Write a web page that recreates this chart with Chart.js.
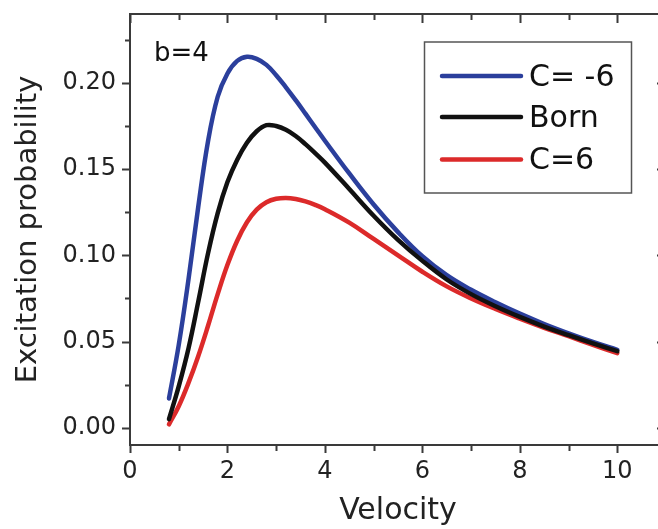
<!DOCTYPE html>
<html>
<head>
<meta charset="utf-8">
<title>Excitation probability vs velocity</title>
<script src="https://cdn.jsdelivr.net/npm/chart.js@4.4.1/dist/chart.umd.min.js"></script>
<style>
  html, body { margin: 0; padding: 0; background: #fff; overflow: hidden; }
  #wrap { width: 658px; height: 529px; overflow: hidden; }
</style>
</head>
<body>
<div id="wrap"><canvas id="chart" width="680" height="529"></canvas></div>
<script>
// Excitation probability for impact parameter b=4
const velocity = [0.8, 1.0, 1.2, 1.4, 1.6, 1.8, 2.0, 2.2, 2.4, 2.6, 2.8, 3.0, 3.2, 3.4, 3.6, 3.8, 4.0,
                  4.5, 5.0, 5.5, 6.0, 6.5, 7.0, 7.5, 8.0, 8.5, 9.0, 9.5, 10.0];
const probCm6  = [0.017, 0.048, 0.086, 0.128, 0.166, 0.192, 0.2055, 0.2128, 0.2152, 0.2140, 0.2105, 0.2045, 0.1975, 0.1900, 0.1822, 0.1743, 0.1665,
                  0.1475, 0.1295, 0.1135, 0.0995, 0.0885, 0.0800, 0.0728, 0.0662, 0.0602, 0.0548, 0.0498, 0.0452];
const probBorn = [0.005, 0.024, 0.046, 0.073, 0.101, 0.1245, 0.1425, 0.1555, 0.1653, 0.1720, 0.1755, 0.1750, 0.1728, 0.1692, 0.1645, 0.1593, 0.1538,
                  0.1385, 0.1230, 0.1090, 0.0968, 0.0860, 0.0775, 0.0705, 0.0643, 0.0587, 0.0537, 0.0489, 0.0444];
const probC6   = [0.002, 0.0125, 0.026, 0.0415, 0.059, 0.0775, 0.0945, 0.1085, 0.1192, 0.1265, 0.1308, 0.1328, 0.1333, 0.1327, 0.1313, 0.1293, 0.1268,
                  0.1190, 0.1095, 0.1000, 0.0905, 0.0820, 0.0750, 0.0689, 0.0633, 0.0580, 0.0531, 0.0481, 0.0433];

const seriesLabels = ['C= -6', 'Born', 'C=6'];
const seriesColors = ['#2b3f9c', '#111111', '#dc2a2a'];

const xMajor = [0, 2, 4, 6, 8, 10];
const xMinor = [1, 3, 5, 7, 9];
const yMajor = [0.00, 0.05, 0.10, 0.15, 0.20];
const yMinor = [0.025, 0.075, 0.125, 0.175, 0.225];

const toPoints = vals => vals.map((v, i) => ({ x: velocity[i], y: v }));

Chart.defaults.font.family = '"DejaVu Sans", sans-serif';
Chart.defaults.color = '#222';

const frameColor = '#3a3a3a';

// box, tick marks on all four sides, legend and the b=4 note
const axesFrame = {
  id: 'axesFrame',
  afterDatasetsDraw(chart) {
    const { ctx, chartArea: a, scales: { x, y } } = chart;
    ctx.save();
    ctx.strokeStyle = frameColor;
    ctx.lineWidth = 2;
    ctx.strokeRect(a.left, a.top, a.right - a.left, a.bottom - a.top);

    ctx.beginPath();
    const xt = (vals, outLen, inLen) => vals.forEach(v => {
      const px = Math.round(x.getPixelForValue(v)) + 0.5;
      ctx.moveTo(px, a.bottom); ctx.lineTo(px, a.bottom + outLen);
      ctx.moveTo(px, a.top); ctx.lineTo(px, a.top + inLen);
    });
    const yt = (vals, outLen, inLen) => vals.forEach(v => {
      const py = Math.round(y.getPixelForValue(v)) + 0.5;
      ctx.moveTo(a.left - outLen, py); ctx.lineTo(a.left, py);
      ctx.moveTo(a.right, py); ctx.lineTo(a.right - inLen, py);
    });
    xt(xMajor, 8, 9);
    xt(xMinor, 6, 6);
    yt(yMajor, 8, 9);
    yt(yMinor, 5, 6);
    ctx.stroke();

    // legend
    ctx.strokeStyle = '#555';
    ctx.lineWidth = 1.5;
    ctx.strokeRect(424.5, 42, 207, 151);
    const rows = [76, 117, 159.5];
    ctx.font = '30px "DejaVu Sans", sans-serif';
    ctx.textBaseline = 'middle';
    ctx.fillStyle = '#111';
    chart.data.datasets.forEach((ds, i) => {
      ctx.strokeStyle = ds.borderColor;
      ctx.lineWidth = 4.5;
      ctx.lineCap = 'round';
      ctx.beginPath();
      ctx.moveTo(442, rows[i]);
      ctx.lineTo(521, rows[i]);
      ctx.stroke();
      ctx.fillText(ds.label, 529, rows[i] + 2);
    });

    ctx.font = '26px "DejaVu Sans", sans-serif';
    ctx.textBaseline = 'alphabetic';
    ctx.fillText('b=4', 154, 61);
    ctx.restore();
  }
};

new Chart(document.getElementById('chart'), {
  type: 'line',
  data: {
    datasets: [probCm6, probBorn, probC6].map((vals, i) => ({
      label: seriesLabels[i],
      data: toPoints(vals),
      borderColor: seriesColors[i],
      borderWidth: 4.5,
      borderCapStyle: 'round',
      borderJoinStyle: 'round',
      pointRadius: 0,
      tension: 0.4,
      order: i === 1 ? 0 : i + 1
    }))
  },
  options: {
    responsive: false,
    animation: false,
    devicePixelRatio: 1,
    layout: { padding: { left: 0, top: 14, right: 14, bottom: 0 } },
    plugins: { legend: { display: false }, tooltip: { enabled: false } },
    scales: {
      x: {
        type: 'linear',
        min: 0,
        max: 11,
        afterFit: s => { s.height = 84; s.paddingLeft = 0; s.paddingRight = 0; },
        afterBuildTicks: s => { s.ticks = xMajor.map(v => ({ value: v })); },
        grid: { display: false, drawTicks: false },
        border: { display: false },
        ticks: { font: { size: 24 }, color: '#222', padding: 12, maxRotation: 0 },
        title: { display: true, text: 'Velocity', font: { size: 30 }, color: '#222', padding: { top: 0, bottom: 0 } }
      },
      y: {
        min: -0.01,
        max: 0.24,
        afterFit: s => { s.width = 130; s.paddingTop = 0; s.paddingBottom = 0; },
        afterBuildTicks: s => { s.ticks = yMajor.map(v => ({ value: v })); },
        grid: { display: false, drawTicks: false },
        border: { display: false },
        ticks: { font: { size: 24 }, color: '#222', padding: 14, callback: v => v.toFixed(2) },
        title: { display: true, text: 'Excitation probability', font: { size: 29 }, color: '#222', padding: { top: 11, bottom: 0 } }
      }
    }
  },
  plugins: [axesFrame]
});
</script>
</body>
</html>
